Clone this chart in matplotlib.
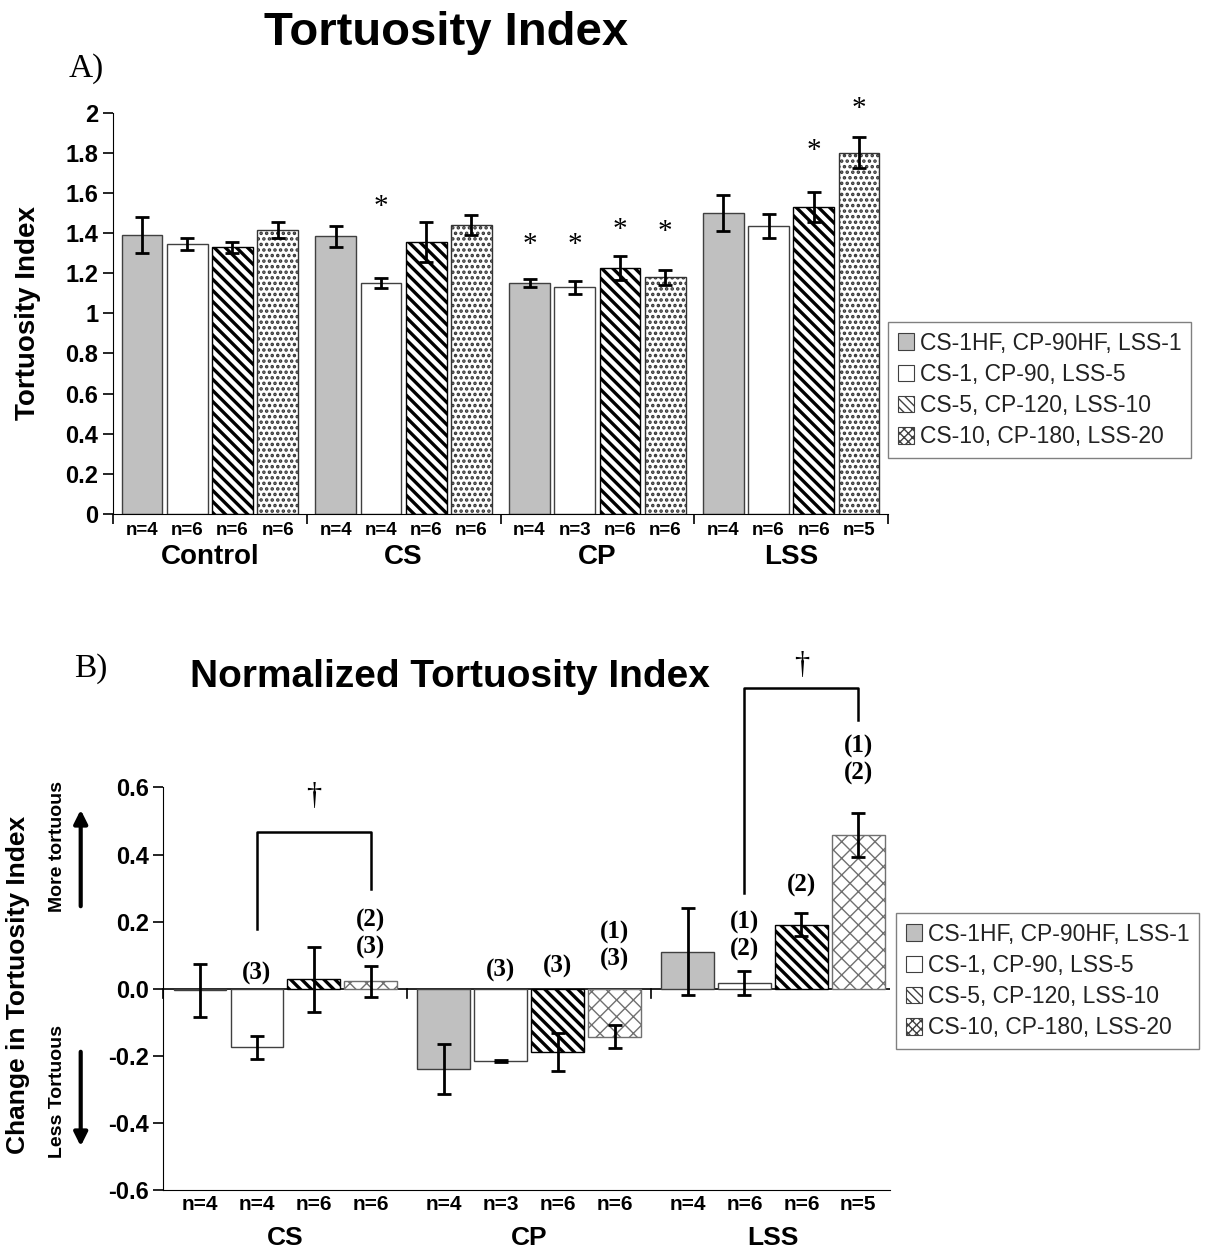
import numpy as np
import matplotlib
matplotlib.use('Agg')
import matplotlib.pyplot as plt
from matplotlib.patches import Patch, FancyArrowPatch

plt.rcParams['font.family'] = ['Liberation Sans', 'DejaVu Sans']
plt.rcParams['axes.unicode_minus'] = False

W, H = 1207, 1251

# legenda (mesma para os dois graficos)
series = ['CS-1HF, CP-90HF, LSS-1', 'CS-1, CP-90, LSS-5',
          'CS-5, CP-120, LSS-10', 'CS-10, CP-180, LSS-20']

# A) indice de tortuosidade
groups_a = ['Control', 'CS', 'CP', 'LSS']
ti_mean = np.array([[1.39, 1.345, 1.33, 1.415],
                    [1.385, 1.15, 1.355, 1.44],
                    [1.15, 1.13, 1.225, 1.18],
                    [1.50, 1.435, 1.53, 1.80]])
ti_err = np.array([[0.09, 0.03, 0.028, 0.038],
                   [0.052, 0.026, 0.10, 0.05],
                   [0.02, 0.033, 0.06, 0.038],
                   [0.09, 0.058, 0.075, 0.078]])
n_a = [['n=4', 'n=6', 'n=6', 'n=6'],
       ['n=4', 'n=4', 'n=6', 'n=6'],
       ['n=4', 'n=3', 'n=6', 'n=6'],
       ['n=4', 'n=6', 'n=6', 'n=5']]
# (grupo, serie, altura do asterisco)
stars = [(1, 1, 1.53), (2, 0, 1.34), (2, 1, 1.34), (2, 2, 1.415),
         (2, 3, 1.404), (3, 2, 1.81), (3, 3, 2.017)]

# B) indice normalizado
groups_b = ['CS', 'CP', 'LSS']
nti_mean = np.array([[-0.005, -0.175, 0.028, 0.022],
                     [-0.24, -0.216, -0.189, -0.143],
                     [0.11, 0.017, 0.191, 0.459]])
nti_err = np.array([[0.078, 0.035, 0.097, 0.047],
                    [0.075, 0.003, 0.056, 0.034],
                    [0.13, 0.036, 0.035, 0.066]])
n_b = [['n=4', 'n=4', 'n=6', 'n=6'],
       ['n=4', 'n=3', 'n=6', 'n=6'],
       ['n=4', 'n=6', 'n=6', 'n=5']]
# (grupo, serie, texto, altura)
sig_b = [(0, 1, '(3)', 0.046), (0, 3, '(2)\n(3)', 0.164),
         (1, 1, '(3)', 0.054), (1, 2, '(3)', 0.066), (1, 3, '(1)\n(3)', 0.128),
         (2, 1, '(1)\n(2)', 0.156), (2, 2, '(2)', 0.307), (2, 3, '(1)\n(2)', 0.683)]
# (grupo, serie esq, serie dir, base esq, base dir, topo, cruz)
brackets = [(0, 1, 3, 0.177, 0.296, 0.468, 0.574),
            (2, 1, 3, 0.284, 0.801, 0.897, 0.964)]

offsets = (np.arange(4) - 1.5) * 0.2335

estilo_a = [dict(facecolor='#c0c0c0', edgecolor='#404040'),
            dict(facecolor='white', edgecolor='#404040'),
            dict(facecolor='white', edgecolor='black', hatch='\\\\\\'),
            dict(facecolor='white', edgecolor='#333333', hatch='...')]
estilo_b = [dict(facecolor='#c0c0c0', edgecolor='#404040'),
            dict(facecolor='white', edgecolor='#404040'),
            dict(facecolor='white', edgecolor='black', hatch='\\\\\\'),
            dict(facecolor='white', edgecolor='#707070', hatch='xx')]
hatch_lw = [1.0, 1.0, 2.4, 1.5]


def fig_xy(x, y):
    return x / W, 1 - y / H


def barras(ax, medias, erros, estilos, largura, lw_x=1.0):
    grupos = np.arange(medias.shape[0])
    for j in range(4):
        xs = grupos + offsets[j]
        bars = ax.bar(xs, medias[:, j], largura, linewidth=1.0, zorder=2, **estilos[j])
        for b in bars:
            if hasattr(b, 'set_hatch_linewidth'):
                b.set_hatch_linewidth(hatch_lw[j] if j < 3 else lw_x)
        ax.errorbar(xs, medias[:, j], yerr=erros[:, j], fmt='none', ecolor='black',
                    elinewidth=2, capsize=5, capthick=2, zorder=3)


def legenda(ax, x, y):
    handles = [Patch(facecolor=s['facecolor'], edgecolor='#404040',
                     hatch={'xx': 'xxxx', '\\\\\\': '\\\\\\\\'}.get(s.get('hatch'), s.get('hatch')),
                     linewidth=0.8)
               for s in estilo_b]
    ax.legend(handles, series, loc='upper left', bbox_to_anchor=fig_xy(x, y),
              bbox_transform=ax.figure.transFigure, borderaxespad=0, fancybox=False,
              edgecolor='#808080', fontsize=16.5, labelcolor='#222222',
              handlelength=0.72, handleheight=0.72, handletextpad=0.25,
              labelspacing=0.36, borderpad=0.42, framealpha=1)


fig = plt.figure(figsize=(W / 100, H / 100), dpi=100)

# ---------- A) ----------
ax1 = fig.add_axes([113 / W, 1 - 514 / H, 775 / W, 401.3 / H])
barras(ax1, ti_mean, ti_err, estilo_a, 0.211, lw_x=1.7)
ax1.set_xlim(-0.5, 3.5)
ax1.set_ylim(0, 2)
ax1.spines[['top', 'right']].set_visible(False)
ax1.set_xticks(np.arange(-0.5, 4, 1))
ax1.set_xticklabels([])
ticks = np.round(np.arange(0, 2.01, 0.2), 1)
ax1.set_yticks(ticks)
ax1.set_yticklabels([f'{t:g}' for t in ticks], fontsize=17, fontweight='bold')
ax1.tick_params(direction='out', length=7, width=1.2)

tr = ax1.get_xaxis_transform()
for g in range(4):
    for j in range(4):
        ax1.text(g + offsets[j], -0.042, n_a[g][j], transform=tr, ha='center',
                 va='center', fontsize=13.5, fontweight='bold')
    ax1.text(g, -0.107, groups_a[g], transform=tr, ha='center', va='center',
             fontsize=20, fontweight='bold')
for g, j, y in stars:
    ax1.text(g + offsets[j], y, '*', ha='center', va='center', fontsize=21,
             family='Liberation Serif', clip_on=False)

fig.text(*fig_xy(446, 45), 'Tortuosity Index', ha='center', va='baseline',
         fontsize=34, fontweight='bold')
fig.text(*fig_xy(86, 77), 'A)', ha='center', va='baseline', fontsize=24,
         family='Liberation Serif')
fig.text(*fig_xy(28, 313), 'Tortuosity Index', rotation=90, ha='center',
         va='center', fontsize=20, fontweight='bold')
legenda(ax1, 888, 322)

# ---------- B) ----------
ax2 = fig.add_axes([163.3 / W, 1 - 1190 / H, 726.7 / W, 402.6 / H])
barras(ax2, nti_mean, nti_err, estilo_b, 0.215, lw_x=1.0)
ax2.set_xlim(-0.5, 2.48)
ax2.set_ylim(-0.6, 0.6)
ax2.spines[['top', 'right']].set_visible(False)
ax2.set_xticks([])
yt = np.round(np.arange(-0.6, 0.61, 0.2), 1)
ax2.set_yticks(yt)
ax2.set_yticklabels([f'{t:.1f}' for t in yt], fontsize=17, fontweight='bold')
ax2.tick_params(axis='y', direction='out', length=7, width=1.2)
ax2.axhline(0, color='black', lw=1.2, zorder=1.5)
for b in [-0.5, 0.5, 1.5]:
    ax2.plot([b, b], [0, -0.027], color='black', lw=1.2, clip_on=False)

tr = ax2.get_xaxis_transform()
for g in range(3):
    for j in range(4):
        ax2.text(g + offsets[j], -0.037, n_b[g][j], transform=tr, ha='center',
                 va='center', fontsize=15, fontweight='bold')
    ax2.text(g, -0.119, groups_b[g], transform=tr, ha='center', va='center',
             fontsize=19, fontweight='bold')

for g, j, txt, y in sig_b:
    ax2.text(g + offsets[j], y, txt, ha='center', va='center', fontsize=18,
             fontweight='bold', family='Liberation Serif', linespacing=1.2,
             clip_on=False)

for g, j1, j2, y1, y2, ytop, ycruz in brackets:
    x1, x2 = g + offsets[j1], g + offsets[j2]
    ax2.plot([x1, x1, x2, x2], [y1, ytop, ytop, y2], color='black', lw=1.8,
             clip_on=False)
    ax2.text((x1 + x2) / 2, ycruz, '\u2020', ha='center', va='center',
             fontsize=22, family='Liberation Serif', clip_on=False)

fig.text(*fig_xy(450, 687), 'Normalized Tortuosity Index', ha='center',
         va='baseline', fontsize=28, fontweight='bold')
fig.text(*fig_xy(91, 677), 'B)', ha='center', va='baseline', fontsize=24,
         family='Liberation Serif')
fig.text(*fig_xy(18, 985), 'Change in Tortuosity Index', rotation=90,
         ha='center', va='center', fontsize=19, fontweight='bold')
fig.text(*fig_xy(57, 847), 'More tortuous', rotation=90, ha='center',
         va='center', fontsize=14, fontweight='bold')
fig.text(*fig_xy(57, 1092), 'Less Tortuous', rotation=90, ha='center',
         va='center', fontsize=14, fontweight='bold')

# setas mais/menos tortuoso
for y0, y1 in [(909, 807), (1049, 1149)]:
    fig.add_artist(FancyArrowPatch(fig_xy(80.7, y0), fig_xy(80.7, y1),
                                   transform=fig.transFigure, arrowstyle='-|>',
                                   mutation_scale=20, lw=3, color='black'))

legenda(ax2, 896, 913)

fig.savefig('out.png', dpi=100)
